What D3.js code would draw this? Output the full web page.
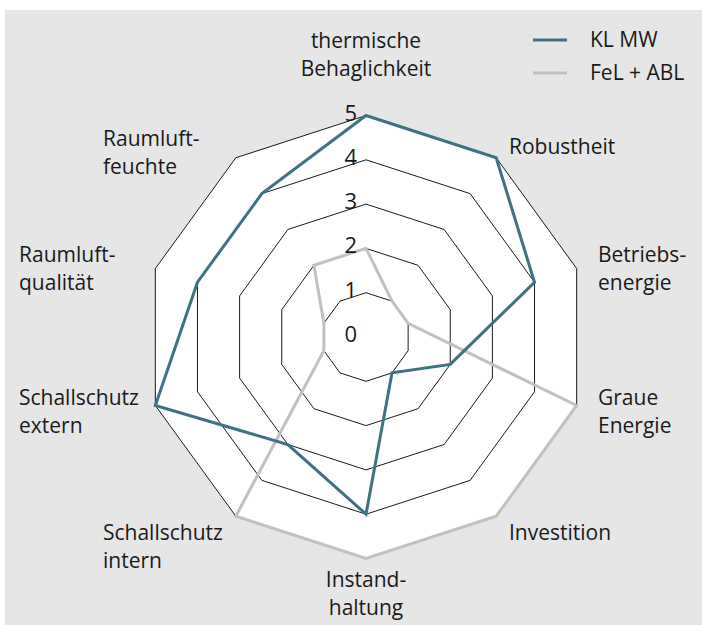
<!DOCTYPE html>
<html>
<head>
<meta charset="utf-8">
<script src="https://cdn.jsdelivr.net/npm/d3@7"></script>
<style>
  body { margin: 0; background: #fff; }
  svg { display: block; font-family: "Open Sans", "Noto Sans", sans-serif; }
</style>
</head>
<body>
<div id="canvas"></div>
<script>
// radar chart: KL MW vs FeL + ABL, 10 criteria, scale 0..5

const axes = [
    ["thermische", "Behaglichkeit"],
    ["Robustheit"],
    ["Betriebs-", "energie"],
    ["Graue", "Energie"],
    ["Investition"],
    ["Instand-", "haltung"],
    ["Schallschutz", "intern"],
    ["Schallschutz", "extern"],
    ["Raumluft-", "qualität"],
    ["Raumluft-", "feuchte"]
];
const seriesNames = ["KL MW", "FeL + ABL"];
const klmw = [5, 5, 4, 2, 1, 4, 3, 5, 4, 4];
const felabl = [2, 1, 1, 5, 5, 5, 5, 1, 1, 2];
const levels = [0, 1, 2, 3, 4, 5];

const colors = ["#3e7282", "#c1c1c1"];

// label layout (x, y of first line centre, anchor)
const labelPos = [
    [366, 41, "middle"],
    [509, 147, "start"],
    [598, 255, "start"],
    [598, 398, "start"],
    [509, 533, "start"],
    [366, 580, "middle"],
    [103, 533, "start"],
    [19, 398, "start"],
    [19, 255, "start"],
    [103, 139, "start"]
];

const width = 702;
const height = 625;
const cx = 366, cy = 337;
const lineH = 28;

const r = d3.scaleLinear().domain([0, 5]).range([0, 221.5]);
const angle = d3.scaleLinear().domain([0, axes.length]).range([0, 2 * Math.PI]);

const svg = d3.select("#canvas")
    .append("svg")
    .attr("width", width)
    .attr("height", height)
    .attr("viewBox", [0, 0, width, height]);

// grey panel
svg.append("rect")
    .attr("x", 5)
    .attr("y", 10)
    .attr("width", width - 5)
    .attr("height", height - 10)
    .attr("fill", "#e6e6e6");

const g = svg.append("g").attr("transform", `translate(${cx},${cy})`);

const ring = lvl => d3.lineRadial()
    .angle((d, i) => angle(i))
    .radius(() => r(lvl))
    .curve(d3.curveLinearClosed)(axes);

// grid rings, outer one white filled
g.append("g")
    .selectAll("path")
    .data(levels.filter(l => l > 0).reverse())
    .join("path")
        .attr("d", d => ring(d))
        .attr("fill", d => d === 5 ? "#fff" : "none")
        .attr("stroke", "#000")
        .attr("stroke-width", 0.9);

// series
const line = d3.lineRadial()
    .angle((d, i) => angle(i))
    .radius(d => r(d))
    .curve(d3.curveLinearClosed);

g.append("g")
    .attr("fill", "none")
    .attr("stroke-width", 3)
    .attr("stroke-linejoin", "miter")
    .selectAll("path")
    .data([felabl, klmw])
    .join("path")
        .attr("stroke", (d, i) => colors[1 - i])
        .attr("d", d => line(d));

// level labels
g.append("g")
    .attr("font-size", 22)
    .attr("fill", "#1a1a1a")
    .attr("text-anchor", "end")
    .selectAll("text")
    .data(levels)
    .join("text")
        .attr("x", -9)
        .attr("y", d => -r(d) + 5)
        .text(d => d);

// axis labels
const lab = svg.append("g")
    .attr("font-size", 21)
    .attr("fill", "#1a1a1a")
    .selectAll("text")
    .data(axes)
    .join("text")
        .attr("text-anchor", (d, i) => labelPos[i][2])
        .attr("x", (d, i) => labelPos[i][0])
        .attr("y", (d, i) => labelPos[i][1] + 7);

lab.selectAll("tspan")
    .data(d => d)
    .join("tspan")
        .attr("x", function () { return this.parentNode.getAttribute("x"); })
        .attr("dy", (d, i) => i === 0 ? 0 : lineH)
        .text(d => d);

// legend
const legend = svg.append("g")
    .selectAll("g")
    .data(seriesNames)
    .join("g")
        .attr("transform", (d, i) => `translate(533,${40 + i * 33})`);

legend.append("line")
    .attr("x1", 0)
    .attr("x2", 34)
    .attr("stroke", (d, i) => colors[i])
    .attr("stroke-width", 3);

legend.append("text")
    .attr("x", 57)
    .attr("y", 7)
    .attr("font-size", 21)
    .attr("fill", "#1a1a1a")
    .text(d => d);
</script>
</body>
</html>
